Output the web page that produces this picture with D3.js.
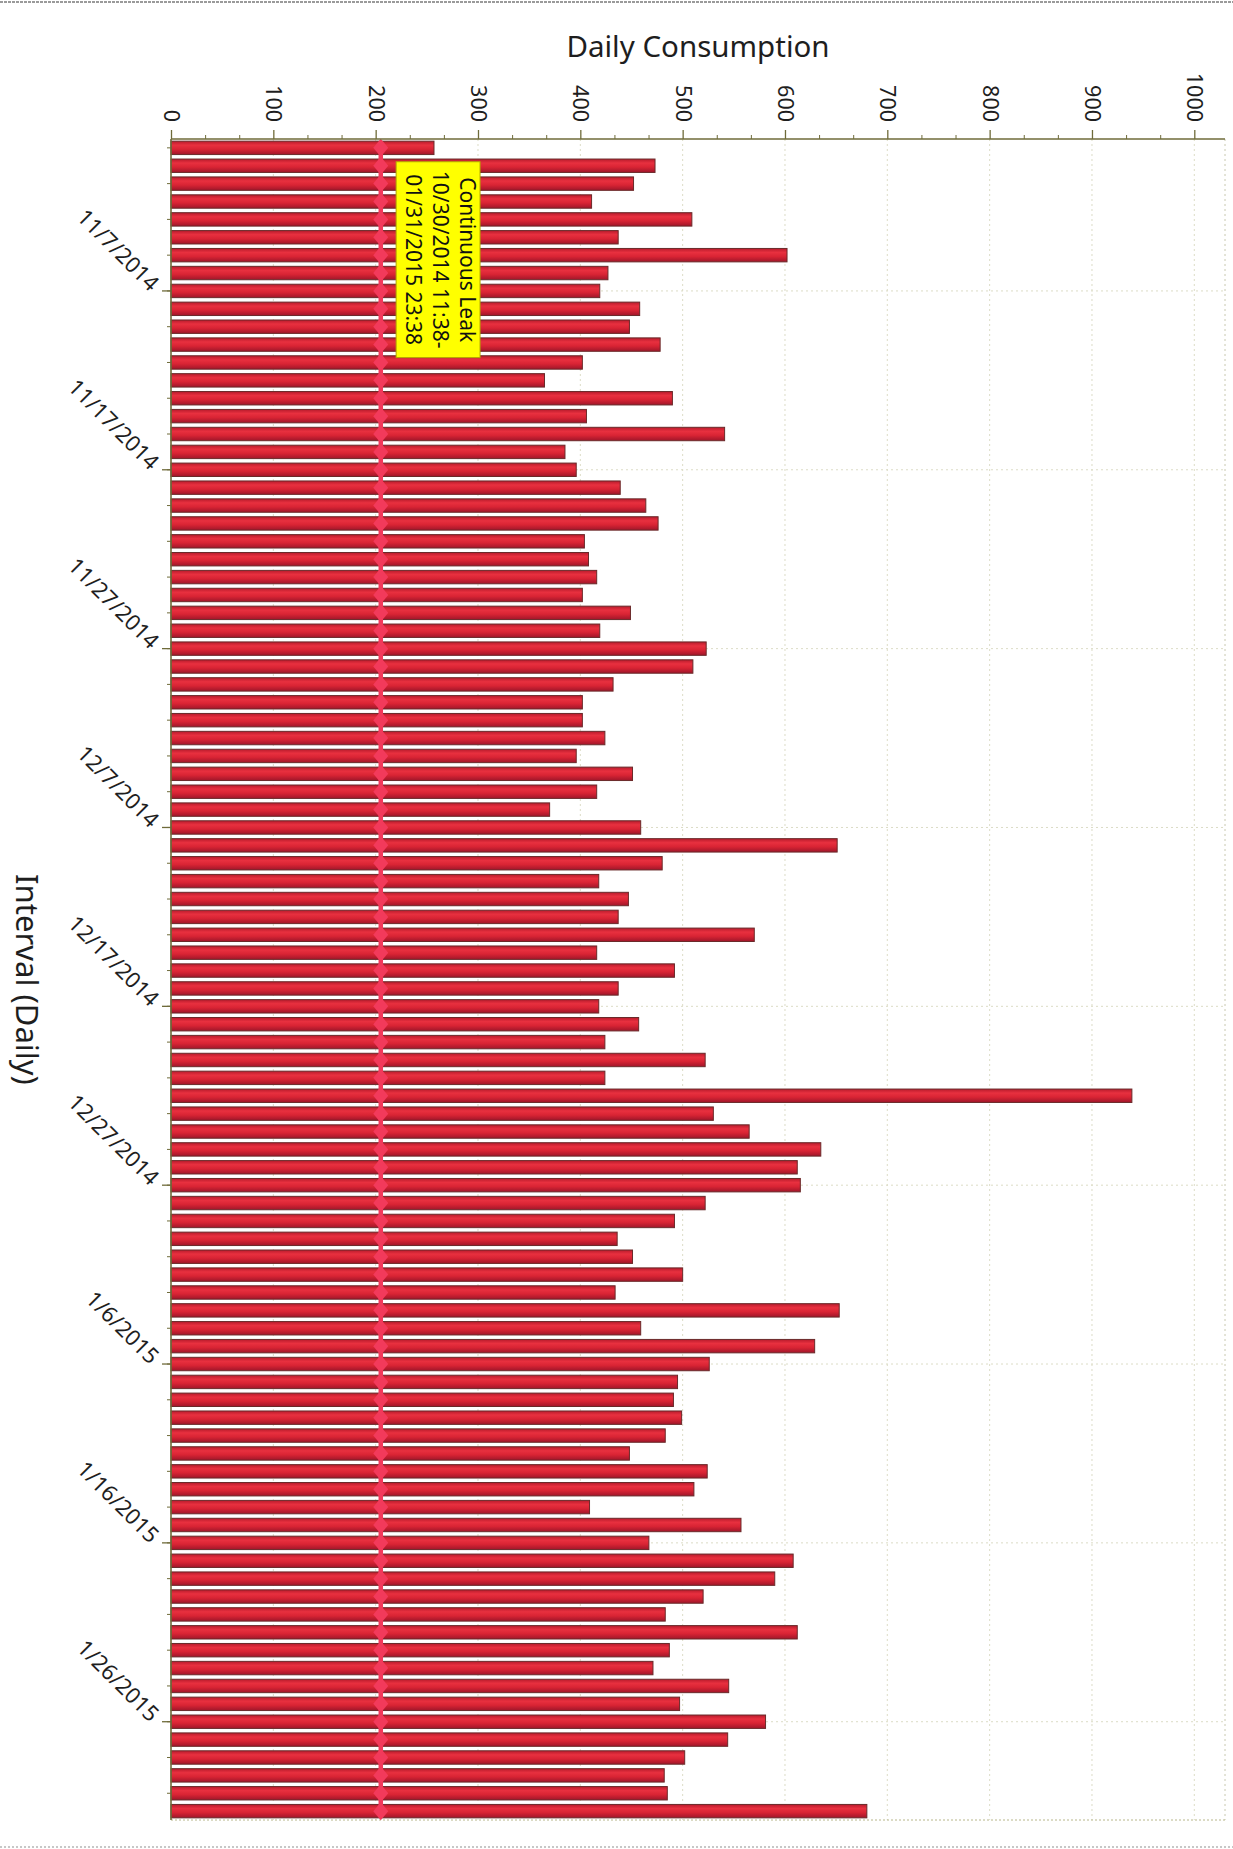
<!DOCTYPE html>
<html>
<head>
<meta charset="utf-8">
<script src="https://cdn.jsdelivr.net/npm/d3@7.9.0/dist/d3.min.js"></script>
<style>
  html, body { margin: 0; padding: 0; background: #fff; }
  svg { display: block; font-family: 'Noto Sans', sans-serif; }
</style>
</head>
<body>
<svg id="chart" width="1233" height="1849"></svg>
<script>
// daily reads, 10/30/2014 .. 1/31/2015
const firstDay = '10/30/2014';
const lastDay = '1/31/2015';

const consumption = [
  257, 473, 452, 411, 509, 437, 602, 427, 419, 458,
  448, 478, 402, 365, 490, 406, 541, 385, 396, 439,
  464, 476, 404, 408, 416, 402, 449, 419, 523, 510,
  432, 402, 402, 424, 396, 451, 416, 370, 459, 651,
  480, 418, 447, 437, 570, 416, 492, 437, 418, 457,
  424, 522, 424, 939, 530, 565, 635, 612, 615, 522,
  492, 436, 451, 500, 434, 653, 459, 629, 526, 495,
  491, 499, 483, 448, 524, 511, 409, 557, 467, 608,
  590, 520, 483, 612, 487, 471, 545, 497, 581, 544,
  502, 482, 485, 680
];

const leakRate = 205;
const leakLabel = ['Continuous Leak', '10/30/2014 11:38-', '01/31/2015 23:38'];

const valueTicks = [0, 100, 200, 300, 400, 500, 600, 700, 800, 900, 1000];
const dateTickLabels = ['11/7/2014', '11/17/2014', '11/27/2014', '12/7/2014', '12/17/2014',
  '12/27/2014', '1/6/2015', '1/16/2015', '1/26/2015'];

const parse = d3.timeParse('%m/%d/%Y');
const fmt = d3.timeFormat('%-m/%-d/%Y');
const days = d3.timeDay.range(parse(firstDay), d3.timeDay.offset(parse(lastDay), 1));
const data = days.map((d, i) => ({ day: d, value: consumption[i] }));

const svg = d3.select('#chart');
const plot = { left: 171, right: 1225, top: 139, bottom: 1820 };
const axisColor = '#6f6b3a';
const gridColor = '#dcdcc6';

const x = d3.scaleLinear().domain([0, 1030]).range([plot.left, plot.right]);
const y = d3.scaleBand().domain(days).range([plot.top, plot.bottom])
  .paddingInner(0.25).paddingOuter(0.12);

// scanner edges
svg.append('line').attr('x1', 0).attr('x2', 1233).attr('y1', 2).attr('y2', 2)
  .attr('stroke', '#9a9a9a').attr('stroke-width', 2).attr('stroke-dasharray', '3,1');
svg.append('line').attr('x1', 0).attr('x2', 1233).attr('y1', 1847).attr('y2', 1847)
  .attr('stroke', '#b5b5b5').attr('stroke-width', 1.5).attr('stroke-dasharray', '2,2');

const defs = svg.append('defs');
const grad = defs.append('linearGradient').attr('id', 'barFill')
  .attr('x1', 0).attr('x2', 0).attr('y1', 0).attr('y2', 1);
grad.selectAll('stop')
  .data([[0, '#b81b2c'], [0.3, '#e8303f'], [0.6, '#d92434'], [1, '#a0162a']])
  .join('stop')
  .attr('offset', d => d[0])
  .attr('stop-color', d => d[1]);

// grid
const grid = svg.append('g').attr('stroke', gridColor).attr('stroke-dasharray', '2,3');
grid.selectAll('.vgrid')
  .data(valueTicks.slice(1))
  .join('line')
  .attr('x1', d => x(d)).attr('x2', d => x(d))
  .attr('y1', plot.top).attr('y2', plot.bottom);

const majorDays = dateTickLabels.map(s => days.find(d => fmt(d) === s));
grid.selectAll('.hgrid')
  .data(majorDays)
  .join('line')
  .attr('x1', plot.left).attr('x2', plot.right)
  .attr('y1', d => y(d) + y.bandwidth() / 2)
  .attr('y2', d => y(d) + y.bandwidth() / 2);

grid.append('line')
  .attr('x1', plot.right).attr('x2', plot.right)
  .attr('y1', plot.top).attr('y2', plot.bottom)
  .attr('stroke', '#c8c8b0');

svg.append('line')
  .attr('x1', plot.left).attr('x2', plot.right)
  .attr('y1', plot.bottom).attr('y2', plot.bottom)
  .attr('stroke', '#b8b68a').attr('stroke-dasharray', '2,2');

// bars
svg.append('g')
  .selectAll('rect')
  .data(data)
  .join('rect')
  .attr('x', x(0))
  .attr('y', d => y(d.day))
  .attr('width', d => x(d.value) - x(0))
  .attr('height', y.bandwidth())
  .attr('fill', 'url(#barFill)')
  .attr('stroke', '#6a2a2a')
  .attr('stroke-width', 1);

// continuous leak series
const leakColor = '#f23a5b';
const cy = d => y(d) + y.bandwidth() / 2;
svg.append('line')
  .attr('x1', x(leakRate)).attr('x2', x(leakRate))
  .attr('y1', cy(days[0])).attr('y2', cy(days[days.length - 1]))
  .attr('stroke', leakColor).attr('stroke-width', 4.5);
svg.append('g')
  .selectAll('path')
  .data(days)
  .join('path')
  .attr('d', d => {
    const px = x(leakRate), py = cy(d);
    return `M${px},${py - 9}L${px + 7.5},${py}L${px},${py + 9}L${px - 7.5},${py}Z`;
  })
  .attr('fill', leakColor);

// top value axis
const majorX = svg.append('g')
  .attr('transform', `translate(0,${plot.top})`)
  .call(d3.axisTop(x).tickValues(valueTicks).tickSize(9).tickFormat(d3.format('d')));
majorX.select('.domain').remove();
majorX.selectAll('line').attr('stroke', axisColor).attr('stroke-width', 1.3);
majorX.selectAll('text')
  .attr('x', 0).attr('y', 0).attr('dy', '0.35em')
  .attr('text-anchor', 'end')
  .attr('transform', 'translate(0,-17) rotate(90)')
  .attr('fill', '#1e1e1e')
  .style('font-size', '21.5px')
  .style('font-family', "'Noto Sans', sans-serif");

const minorValues = d3.range(0, 1030, 100 / 3).filter(v => Math.abs(v / 100 - Math.round(v / 100)) > 0.01);
const minorX = svg.append('g')
  .attr('transform', `translate(0,${plot.top})`)
  .call(d3.axisTop(x).tickValues(minorValues).tickSize(4).tickFormat(''));
minorX.select('.domain').remove();
minorX.selectAll('line').attr('stroke', axisColor);

svg.append('line')
  .attr('x1', plot.left).attr('x2', plot.right)
  .attr('y1', plot.top).attr('y2', plot.top)
  .attr('stroke', axisColor).attr('stroke-width', 1.6);

// left date axis
const minorY = svg.append('g')
  .attr('transform', `translate(${plot.left},0)`)
  .call(d3.axisLeft(y).tickValues(days.filter((d, i) => i % 2 === 0)).tickSize(4).tickFormat(''));
minorY.select('.domain').remove();
minorY.selectAll('line').attr('stroke', axisColor);

const majorY = svg.append('g')
  .attr('transform', `translate(${plot.left},0)`)
  .call(d3.axisLeft(y).tickValues(majorDays).tickSize(9).tickFormat(fmt));
majorY.select('.domain').remove();
majorY.selectAll('line').attr('stroke', axisColor).attr('stroke-width', 1.3);
majorY.selectAll('text')
  .attr('x', 0).attr('y', 0).attr('dy', '0.35em')
  .attr('text-anchor', 'end')
  .attr('transform', 'translate(-16,-4) rotate(45)')
  .attr('fill', '#1e1e1e')
  .style('font-size', '22px')
  .style('font-family', "'Noto Sans', sans-serif");

svg.append('line')
  .attr('x1', plot.left).attr('x2', plot.left)
  .attr('y1', plot.top).attr('y2', plot.bottom)
  .attr('stroke', axisColor).attr('stroke-width', 1.6);

// titles
svg.append('text')
  .attr('x', (plot.left + plot.right) / 2)
  .attr('y', 57)
  .attr('text-anchor', 'middle')
  .attr('fill', '#1e1e1e')
  .style('font-size', '29.5px')
  .text('Daily Consumption');

svg.append('text')
  .attr('text-anchor', 'middle')
  .attr('transform', `translate(16,${(plot.top + plot.bottom) / 2}) rotate(90)`)
  .attr('fill', '#1e1e1e')
  .style('font-size', '31px')
  .text('Interval (Daily)');

// leak annotation
const boxLeft = x(220), boxRight = x(302);
const boxTop = cy(days[1]) - 4, boxBottom = cy(days[11]) + 13;
const note = svg.append('g');
note.append('rect')
  .attr('x', boxLeft).attr('y', boxTop)
  .attr('width', boxRight - boxLeft).attr('height', boxBottom - boxTop)
  .attr('fill', '#ffff00').attr('stroke', '#b3a700').attr('stroke-width', 1);
note.selectAll('text')
  .data(leakLabel)
  .join('text')
  .attr('text-anchor', 'middle')
  .attr('transform', (d, i) => `translate(${boxRight - 20 - i * 27},${(boxTop + boxBottom) / 2}) rotate(90)`)
  .attr('fill', '#111')
  .style('font-size', '21px')
  .text(d => d);
</script>
</body>
</html>
